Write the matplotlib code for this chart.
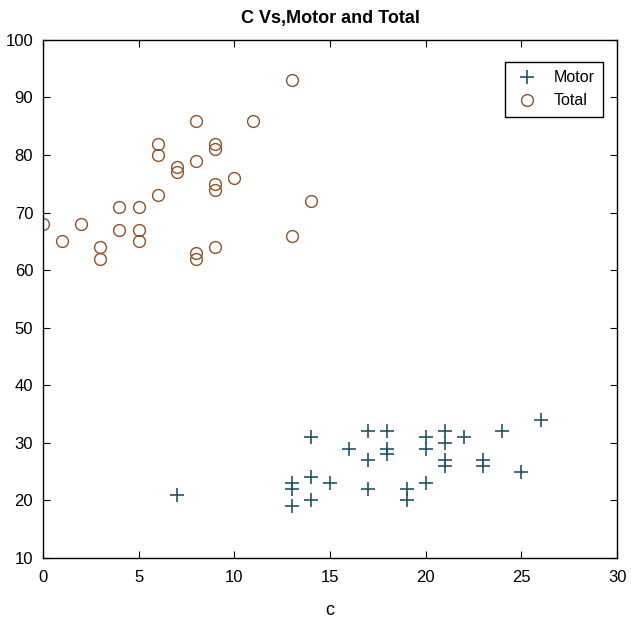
import matplotlib
matplotlib.use("Agg")
import matplotlib.pyplot as plt

plt.rcParams['font.family'] = ['Liberation Sans', 'DejaVu Sans']

# Motor values
motor_c = [7, 13, 13, 13, 14, 14, 14, 15, 16, 17, 17, 17, 18, 18, 18,
           19, 19, 20, 20, 20, 21, 21, 21, 21, 22, 23, 23, 24, 25, 26]
motor_y = [21, 23, 22, 19, 31, 24, 20, 23, 29, 32, 27, 22, 32, 29, 28,
           22, 20, 31, 29, 23, 32, 30, 27, 26, 31, 27, 26, 32, 25, 34]

# Total values
total_c = [0, 1, 2, 3, 3, 4, 4, 5, 5, 5, 6, 6, 6, 7, 7, 8, 8, 8, 8,
           9, 9, 9, 9, 9, 10, 11, 13, 13, 14]
total_y = [68, 65, 68, 64, 62, 71, 67, 71, 67, 65, 82, 80, 73, 78, 77, 86, 79, 63, 62,
           82, 81, 75, 74, 64, 76, 86, 93, 66, 72]

fig = plt.figure(figsize=(6.31, 6.24), dpi=100)
ax = fig.add_axes([0.068, 0.106, 0.91, 0.83])

ax.plot(motor_c, motor_y, '+', color='#1d5566', markersize=10, markeredgewidth=1.2, label='Motor')
ax.plot(total_c, total_y, 'o', color='#8e5224', markerfacecolor='none', markersize=8.5,
        markeredgewidth=1.0, label='Total')

ax.set_xlim(0, 30)
ax.set_ylim(10, 100)
ax.set_xticks(range(0, 31, 5))
ax.set_yticks(range(10, 101, 10))
ax.tick_params(direction='in', top=True, right=True, labelsize=12, length=5)
ax.tick_params(axis='x', pad=9)
ax.tick_params(axis='y', pad=7)
for s in ax.spines.values():
    s.set_linewidth(1.0)

ax.set_title('C Vs,Motor and Total', fontsize=13, fontweight='bold', pad=12)
ax.set_xlabel('c', fontsize=13, labelpad=12)

leg = ax.legend(loc='upper right', bbox_to_anchor=(0.976, 0.958), borderaxespad=0,
                fontsize=11.5, fancybox=False, framealpha=1, edgecolor='black',
                handletextpad=0.8, borderpad=0.55, labelspacing=0.5, handlelength=1.7)
leg.get_frame().set_linewidth(1.0)

fig.savefig('out.png', dpi=100)
